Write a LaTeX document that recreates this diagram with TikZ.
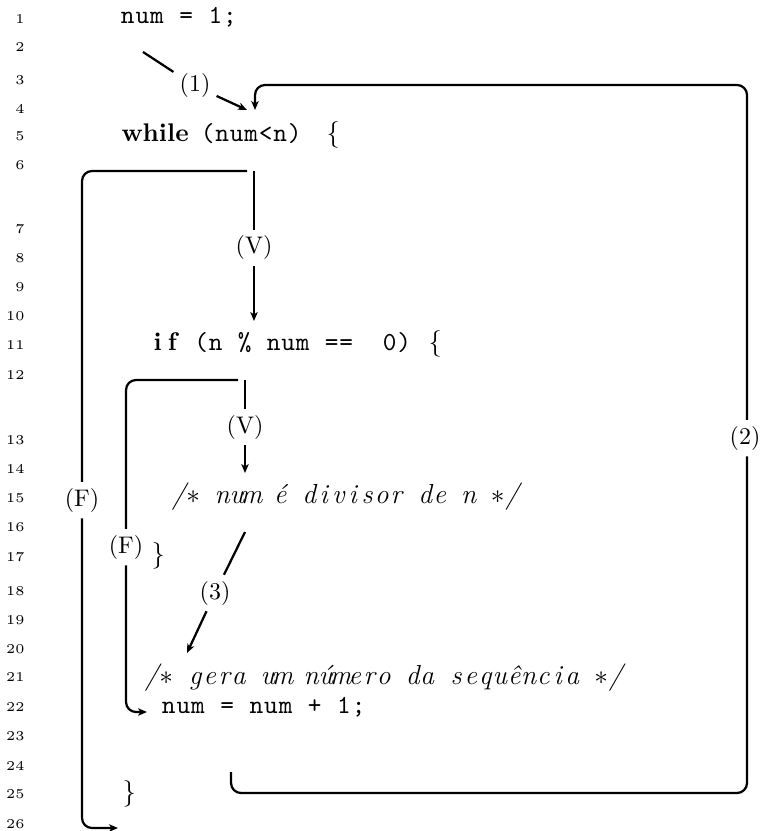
\documentclass[tikz,border=0pt]{standalone}
\usepackage{fontspec}
\usetikzlibrary{arrows.meta}
\ExplSyntaxOn
\NewDocumentCommand\fixcols{mm}{\tl_map_inline:nn{#2}{\makebox[#1][c]{##1}}}
\ExplSyntaxOff
\begin{document}
\begin{tikzpicture}[x=0.4pt,y=-0.4pt,
  code/.style={anchor=base west,inner sep=0pt,font=\fontsize{10.4}{12}\ttfamily},
  kw/.style={anchor=base west,inner sep=0pt,font=\fontsize{10.2}{12}\bfseries},
  rm/.style={anchor=base west,inner sep=0pt,font=\fontsize{10.6}{12}\selectfont},
  cmt/.style={anchor=base west,inner sep=0pt,font=\fontsize{11}{13}\itshape},
  lnum/.style={anchor=base east,inner sep=0pt,font=\fontsize{5.4}{6}\selectfont},
  lbl/.style={inner sep=2.3pt,font=\fontsize{9.6}{11}\selectfont},
  flow/.style={line width=0.9pt},
  arr/.style={flow,-{Stealth[length=3.6pt,width=3pt,inset=1pt]}}]
\useasboundingbox (0,0) rectangle (762,831);
% line numbers
\foreach \n/\y in {1/24,2/52,3/85,4/113.5,5/140.5,6/169.5,7/233.5,8/263,9/291.5,10/320.5,11/349.5,12/379,13/444,14/473,15/502,16/531.5,17/561.5,18/595,19/624,20/653,21/681.5,22/711.5,23/740.5,24/770.5,25/798.5,26/828}
  \node[lnum] (n\n) at (25,\y) {\n};
% code
\node[code] (l1) at (120,24) {\fixcols{5.84pt}{num~=~1;}};
\node[kw] (l5a) at (121,142) {while};
\node[code] (l5b) at (200,142) {\fixcols{5.8pt}{(num<n)}};
\node[rm] (l5c) at (326,142) {\{};
\node[kw] (l11a) at (150,350.5) {\fixcols{5.8pt}{if}};
\node[code] (l11b) at (179,350.5) {\fixcols{5.8pt}{~(n~\%~num~==~~0)~}};
\node[rm] (l11c) at (428,350.5) {\{};
\node[cmt] (l15) at (171,503) {\fixcols{5.8pt}{/{$\ast$}~num~é~divisor~de~n~{$\ast$}/}};
\node[rm] (l17) at (151,562) {\}};
\node[cmt] (l21) at (144,684) {\fixcols{5.8pt}{/{$\ast$}~gera~um~número~da~sequência~{$\ast$}/}};
\node[code] (l22) at (161,713) {\fixcols{5.84pt}{num~=~num~+~1;}};
\node[rm] (l25) at (122,800) {\}};
% (1)
\coordinate (a1s) at (143,52);
\node[lbl] (lab1) at (195,86) {(1)};
\coordinate (a1e) at (247,110);
\draw[arr] (a1s) -- (lab1) -- (a1e);
% while (V)
\coordinate (wv1) at (254,171);
\node[lbl] (labV1) at (254,248) {(V)};
\coordinate (wv2) at (254,321);
\draw[arr] (wv1) -- (labV1) -- (wv2);
% if (V)
\coordinate (iv1) at (245,380);
\node[lbl] (labV2) at (245,427) {(V)};
\coordinate (iv2) at (245,473);
\draw[arr] (iv1) -- (labV2) -- (iv2);
% (3)
\coordinate (t3s) at (245,532);
\node[lbl] (lab3) at (215,593) {(3)};
\coordinate (t3e) at (187,653);
\draw[arr] (t3s) -- (lab3) -- (t3e);
% while (F)
\coordinate (wf1) at (247,171);
\node[lbl] (labF1) at (82,500) {(F)};
\coordinate (wf2) at (118,828);
\draw[flow,rounded corners=4pt] (wf1) -| (labF1);
\draw[arr,rounded corners=4pt] (labF1) |- (wf2);
% if (F)
\coordinate (if1) at (238,380);
\node[lbl] (labF2) at (126,547) {(F)};
\coordinate (if2) at (147,712);
\draw[flow,rounded corners=4pt] (if1) -| (labF2);
\draw[arr,rounded corners=4pt] (labF2) |- (if2);
% loop (2)
\coordinate (c2s) at (231,772);
\coordinate (c2br) at (747,793);
\node[lbl] (lab2) at (745,438) {(2)};
\coordinate (c2tl) at (255,85);
\coordinate (c2e) at (255,110);
\draw[flow,rounded corners=4pt] (c2s) |- (c2br) -- (c2br |- lab2.south);
\draw[arr,rounded corners=4pt] (c2br |- lab2.north) |- (c2tl) -- (c2e);
\end{tikzpicture}
\end{document}
